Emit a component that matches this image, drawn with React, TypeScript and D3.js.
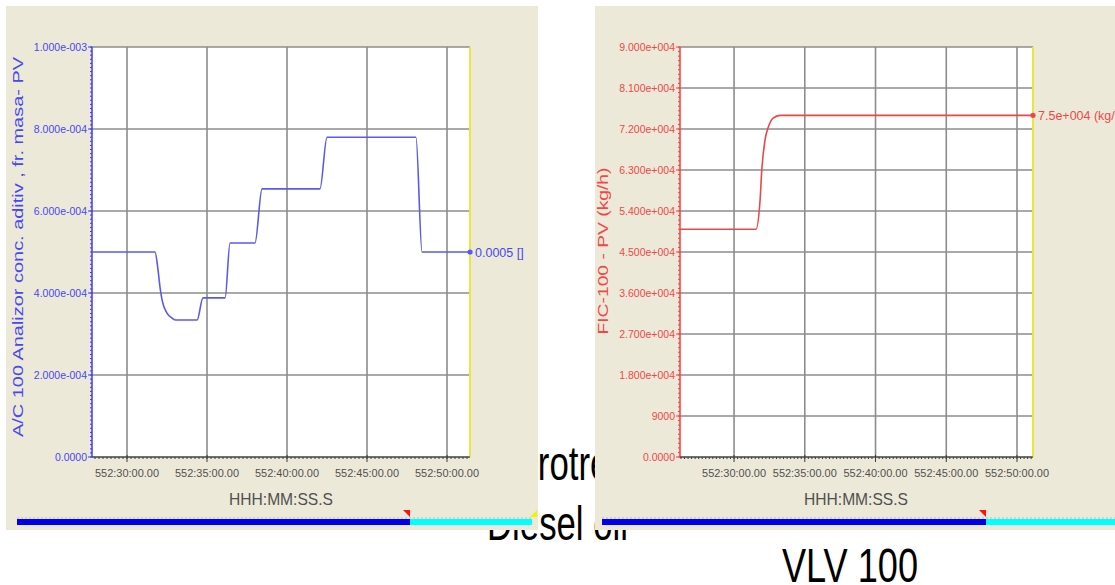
import React from "react";
import * as d3 from "d3";

const W = 1115;
const H = 585;
const FONT = "'Liberation Sans', Arial, sans-serif";

// time axis (minutes after 552:00:00)
const timeTicks = [30, 35, 40, 45, 50];
const timeLabels = ["552:30:00.00", "552:35:00.00", "552:40:00.00", "552:45:00.00", "552:50:00.00"];

// AIC-100 analyzer, mass fraction
const aicMinutes = [27.81, 31.75, 31.94, 32.06, 32.19, 32.5, 32.81, 33.06, 34.38, 34.75, 36.13, 36.44, 38.0, 38.44, 42.06, 42.5, 48.06, 48.44, 51.44];
const aicValues = [5.0e-4, 5.0e-4, 4.56e-4, 4.15e-4, 3.83e-4, 3.51e-4, 3.39e-4, 3.34e-4, 3.34e-4, 3.88e-4, 3.88e-4, 5.22e-4, 5.22e-4, 6.54e-4, 6.54e-4, 7.8e-4, 7.8e-4, 5.0e-4, 5.0e-4];
const aicTicks = [0, 2e-4, 4e-4, 6e-4, 8e-4, 1e-3];
const aicTickLabels = ["0.0000", "2.000e-004", "4.000e-004", "6.000e-004", "8.000e-004", "1.000e-003"];

// FIC-100 flow, kg/h
const ficMinutes = [26.18, 31.55, 31.84, 31.96, 32.19, 32.4, 32.76, 33.25, 51.13];
const ficValues = [5.0e4, 5.0e4, 5.64e4, 6.3e4, 6.96e4, 7.22e4, 7.44e4, 7.5e4, 7.5e4];
const ficTicks = [0, 9000, 18000, 27000, 36000, 45000, 54000, 63000, 72000, 81000, 90000];
const ficTickLabels = ["0.0000", "9000", "1.800e+004", "2.700e+004", "3.600e+004", "4.500e+004", "5.400e+004", "6.300e+004", "7.200e+004", "8.100e+004", "9.000e+004"];

type PanelProps = {
  box: { x: number; y: number; w: number; h: number };
  plot: { x0: number; x1: number; y0: number; y1: number };
  xDomain: [number, number];
  yDomain: [number, number];
  minutes: number[];
  values: number[];
  yTicks: number[];
  yTickLabels: string[];
  lineColor: string;
  axisColor: string;
  labelColor: string;
  title: string;
  titlePos: { x: number; y: number; len: number };
  endLabel: string;
  xTitleX: number;
  bar: { x0: number; split: number; x1: number };
};

const StripChart = (p: PanelProps) => {
  const { plot } = p;
  const x = d3.scaleLinear().domain(p.xDomain).range([plot.x0, plot.x1]);
  const y = d3.scaleLinear().domain(p.yDomain).range([plot.y1, plot.y0]);
  const pts = p.minutes.map((m, i) => [m, p.values[i]] as [number, number]);
  const line = d3
    .line<[number, number]>()
    .x((d) => x(d[0]))
    .y((d) => y(d[1]))
    .curve(d3.curveMonotoneX);
  const yMinor = y.ticks(100);
  const xMinor = d3.range(Math.ceil(p.xDomain[0] * 4) / 4, p.xDomain[1], 0.25);
  const last = pts[pts.length - 1];

  return (
    <g>
      <rect x={p.box.x} y={p.box.y} width={p.box.w} height={p.box.h} fill="#ece9d8" />
      <rect x={plot.x0} y={plot.y0} width={plot.x1 - plot.x0} height={plot.y1 - plot.y0} fill="#ffffff" />
      {/* grid */}
      {p.yTicks.map((t) => (
        <line key={"gy" + t} x1={plot.x0} x2={plot.x1} y1={y(t)} y2={y(t)} stroke="#8c8c8c" strokeWidth={1.6} />
      ))}
      {timeTicks.map((t) => (
        <line key={"gx" + t} x1={x(t)} x2={x(t)} y1={plot.y0} y2={plot.y1} stroke="#8c8c8c" strokeWidth={1.6} />
      ))}
      <line x1={plot.x1} x2={plot.x1} y1={plot.y0} y2={plot.y1} stroke="#e8e640" strokeWidth={2} />

      {/* y axis */}
      <line x1={plot.x0} x2={plot.x0} y1={plot.y0} y2={plot.y1} stroke={p.axisColor} strokeWidth={1.5} />
      {yMinor.map((t) => (
        <line key={"my" + t} x1={plot.x0 - 2} x2={plot.x0} y1={y(t)} y2={y(t)} stroke={p.axisColor} strokeWidth={1} />
      ))}
      {p.yTicks.map((t, i) => (
        <g key={"ty" + t}>
          <line x1={plot.x0 - 4} x2={plot.x0} y1={y(t)} y2={y(t)} stroke={p.axisColor} strokeWidth={1} />
          <text x={plot.x0 - 5} y={y(t) + 3.5} textAnchor="end" fontSize={10.5} fill={p.labelColor} fontFamily={FONT}>
            {p.yTickLabels[i]}
          </text>
        </g>
      ))}
      <text
        transform={`translate(${p.titlePos.x},${p.titlePos.y}) rotate(-90)`}
        textAnchor="middle"
        fontSize={14}
        fill={p.labelColor}
        fontFamily={FONT}
        textLength={p.titlePos.len}
        lengthAdjust="spacingAndGlyphs"
        dy={5}
      >
        {p.title}
      </text>

      {/* x axis */}
      <line x1={plot.x0} x2={plot.x1} y1={plot.y1} y2={plot.y1} stroke="#3a3a3a" strokeWidth={1.2} />
      {xMinor.map((t) => (
        <line key={"mx" + t} x1={x(t)} x2={x(t)} y1={plot.y1} y2={plot.y1 + 2} stroke="#3a3a3a" strokeWidth={1} />
      ))}
      {timeTicks.map((t, i) => (
        <g key={"tx" + t}>
          <line x1={x(t)} x2={x(t)} y1={plot.y1 - 2} y2={plot.y1 + 5} stroke="#3a3a3a" strokeWidth={1} />
          <text x={x(t)} y={plot.y1 + 20} textAnchor="middle" fontSize={11.5} fill="#505050" fontFamily={FONT} textLength={64} lengthAdjust="spacingAndGlyphs">
            {timeLabels[i]}
          </text>
        </g>
      ))}
      <text x={p.xTitleX} y={plot.y1 + 48} textAnchor="middle" fontSize={17} fill="#505050" fontFamily={FONT} textLength={104} lengthAdjust="spacingAndGlyphs">
        HHH:MM:SS.S
      </text>

      {/* trend */}
      <path d={line(pts) || ""} fill="none" stroke={p.lineColor} strokeWidth={1.6} />
      <circle cx={x(last[0])} cy={y(last[1])} r={2.6} fill={p.lineColor} />
      <text x={x(last[0]) + 5} y={y(last[1]) + 4.5} fontSize={12.5} fill={p.labelColor} fontFamily={FONT}>
        {p.endLabel}
      </text>

      {/* scroll bar */}
      <line x1={p.bar.x0} x2={p.bar.x1} y1={518} y2={518} stroke="#b8b8c8" strokeWidth={1} strokeDasharray="2,2" />
      <rect x={p.bar.x0} y={519} width={p.bar.split - p.bar.x0} height={6} fill="#0000ee" />
      <rect x={p.bar.split} y={519} width={p.bar.x1 - p.bar.split} height={6} fill="#00ffff" />
      <path d={`M${p.bar.split - 7},510 L${p.bar.split},510 L${p.bar.split},517 Z`} fill="#ff1010" />
    </g>
  );
};

export default function App() {
  return (
    <svg width={W} height={H} style={{ position: "absolute", left: 0, top: 0, background: "#ffffff" }}>
      <text x={476} y={480} fontSize={48} fontFamily={FONT} fill="#000" textLength={201} lengthAdjust="spacingAndGlyphs">
        Hydrotreated
      </text>
      <text x={487} y={540} fontSize={48} fontFamily={FONT} fill="#000" textLength={141} lengthAdjust="spacingAndGlyphs">
        Diesel oil
      </text>
      <StripChart
        box={{ x: 6, y: 6, w: 532, h: 524 }}
        plot={{ x0: 92, x1: 470, y0: 47, y1: 457 }}
        xDomain={[27.8125, 51.4375]}
        yDomain={[0, 1e-3]}
        minutes={aicMinutes}
        values={aicValues}
        yTicks={aicTicks}
        yTickLabels={aicTickLabels}
        lineColor="#5a5aec"
        axisColor="#3a3aff"
        labelColor="#4848f0"
        title="A/C  100  Analizor  conc.  aditiv , fr.  masa- PV"
        titlePos={{ x: 18, y: 247, len: 380 }}
        endLabel="0.0005 []"
        xTitleX={281}
        bar={{ x0: 17, split: 410, x1: 532 }}
      />
      <path d="M530,517 L537,510 L537,517 Z" fill="#f2f200" />
      <StripChart
        box={{ x: 595, y: 6, w: 520, h: 524 }}
        plot={{ x0: 680, x1: 1033, y0: 47, y1: 457 }}
        xDomain={[26.18, 51.13]}
        yDomain={[0, 9e4]}
        minutes={ficMinutes}
        values={ficValues}
        yTicks={ficTicks}
        yTickLabels={ficTickLabels}
        lineColor="#e84848"
        axisColor="#ff3a3a"
        labelColor="#f04848"
        title="FIC-100 - PV (kg/h)"
        titlePos={{ x: 603, y: 251, len: 167 }}
        endLabel="7.5e+004 (kg/h)"
        xTitleX={856}
        bar={{ x0: 602, split: 986, x1: 1115 }}
      />
      <text x={782} y={582} fontSize={48} fontFamily={FONT} fill="#000" textLength={136} lengthAdjust="spacingAndGlyphs">
        VLV 100
      </text>
    </svg>
  );
}
